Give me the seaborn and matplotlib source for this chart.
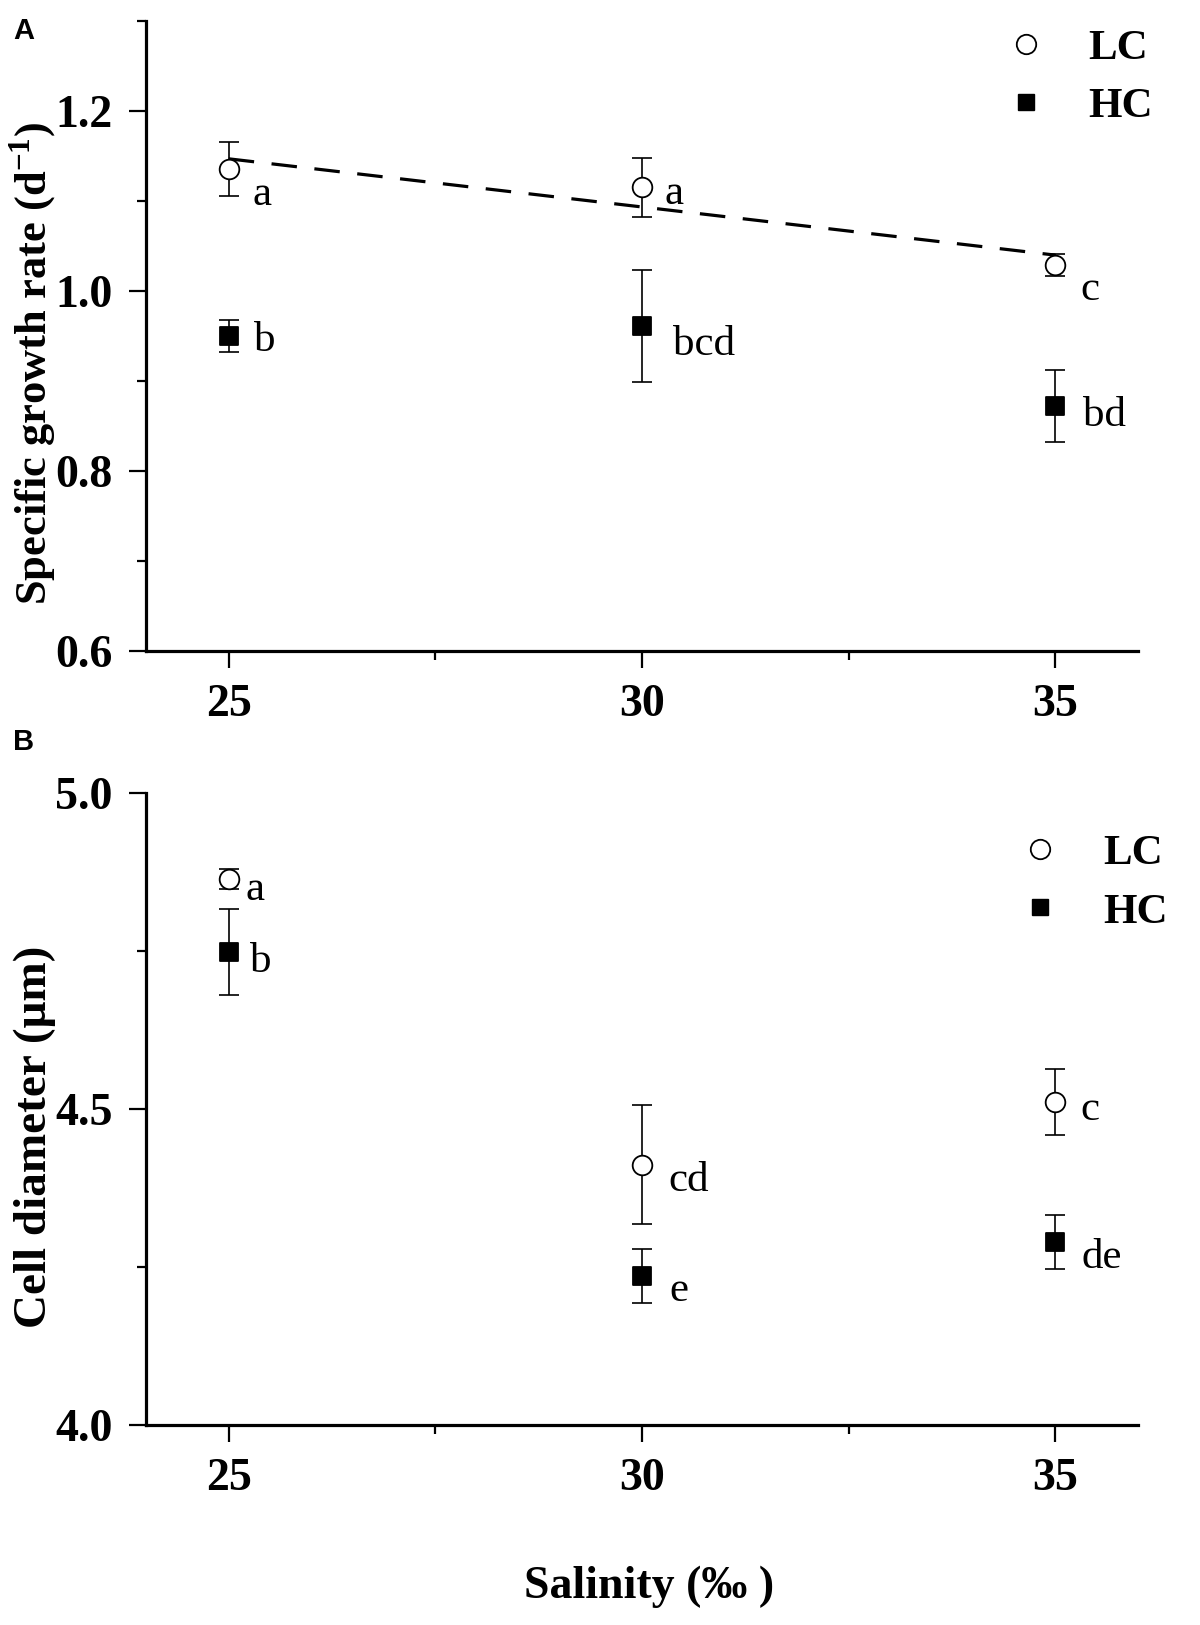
import matplotlib
matplotlib.use("Agg")
import matplotlib.pyplot as plt
from matplotlib.lines import Line2D
from matplotlib.ticker import FixedLocator
import seaborn as sns
import pandas as pd

# data
salinity = [25, 30, 35]

lc_growth = [1.136, 1.115, 1.029]
lc_growth_err = [0.030, 0.033, 0.012]
hc_growth = [0.950, 0.961, 0.872]
hc_growth_err = [0.018, 0.062, 0.040]
lc_growth_letters = ["a", "a", "c"]
hc_growth_letters = ["b", "bcd", "bd"]

lc_diam = [4.864, 4.412, 4.511]
lc_diam_err = [0.016, 0.094, 0.052]
hc_diam = [4.748, 4.236, 4.290]
hc_diam_err = [0.068, 0.043, 0.043]
lc_diam_letters = ["a", "cd", "c"]
hc_diam_letters = ["b", "e", "de"]

groups = ["LC", "HC"]

df_growth = pd.DataFrame({
    "Salinity": salinity * 2,
    "Value": lc_growth + hc_growth,
    "Err": lc_growth_err + hc_growth_err,
    "Group": ["LC"] * 3 + ["HC"] * 3,
})
df_diam = pd.DataFrame({
    "Salinity": salinity * 2,
    "Value": lc_diam + hc_diam,
    "Err": lc_diam_err + hc_diam_err,
    "Group": ["LC"] * 3 + ["HC"] * 3,
})

sns.set_style("ticks")
plt.rcParams["font.family"] = ["Liberation Serif", "DejaVu Serif"]
plt.rcParams["mathtext.fontset"] = "custom"
plt.rcParams["mathtext.rm"] = "Liberation Serif"
plt.rcParams["mathtext.bf"] = "Liberation Serif:bold"
for k in ["text.color", "axes.labelcolor", "xtick.color", "ytick.color", "axes.edgecolor"]:
    plt.rcParams[k] = "black"

fig = plt.figure(figsize=(12, 16.25), dpi=100)
axA = fig.add_axes([0.1217, 0.5994, 0.8266, 0.3877])
axB = fig.add_axes([0.1217, 0.1231, 0.8266, 0.3889])

markers = {"LC": "o", "HC": "s"}
sizes = {"LC": 200, "HC": 150}
faces = {"LC": "white", "HC": "black"}

# letter offsets in points (dx, dy) from each point
off_A = {"LC": [(17, -26), (16, -12), (18, -25)], "HC": [(18, -11), (22, -21), (20, -14)]}
off_B = {"LC": [(12, -15), (19, -19), (18, -13)], "HC": [(15, -14), (20, -18), (19, -19)]}


def draw_panel(ax, df, letters, offsets):
    for g in groups:
        d = df[df.Group == g]
        ax.errorbar(d.Salinity, d.Value, yerr=d.Err, fmt="none", ecolor="black",
                    elinewidth=1.2, capsize=7, capthick=1.2, zorder=2)
        sns.scatterplot(x="Salinity", y="Value", data=d, marker=markers[g],
                        s=sizes[g], color=faces[g], edgecolor="black",
                        linewidth=1.3, ax=ax, zorder=4, legend=False)
        for (x, y, t, o) in zip(d.Salinity, d.Value, letters[g], offsets[g]):
            ax.annotate(t, (x, y), xytext=o, textcoords="offset points",
                        ha="left", va="baseline", fontsize=31)
    ax.set_xlim(24, 36)
    ax.xaxis.set_major_locator(FixedLocator([25, 30, 35]))
    ax.xaxis.set_minor_locator(FixedLocator([27.5, 32.5]))
    for s in ["left", "bottom"]:
        ax.spines[s].set_linewidth(2.3)
    sns.despine(ax=ax)
    ax.tick_params(which="major", length=12, width=1.6, pad=12, labelsize=33)
    ax.tick_params(which="minor", length=6.5, width=1.6)
    ax.set_xlabel("")


draw_panel(axA, df_growth, {"LC": lc_growth_letters, "HC": hc_growth_letters}, off_A)
draw_panel(axB, df_diam, {"LC": lc_diam_letters, "HC": hc_diam_letters}, off_B)

# linear fit for LC growth
sns.regplot(x="Salinity", y="Value", data=df_growth[df_growth.Group == "LC"],
            scatter=False, ci=None, truncate=True, ax=axA,
            line_kws=dict(color="black", lw=2.3, dashes=(8, 5.5), zorder=3))

axA.set_ylim(0.6, 1.3)
axA.yaxis.set_major_locator(FixedLocator([0.6, 0.8, 1.0, 1.2]))
axA.yaxis.set_minor_locator(FixedLocator([0.7, 0.9, 1.1, 1.3]))
axA.set_yticklabels(["0.6", "0.8", "1.0", "1.2"], fontweight="bold")
axA.set_xticklabels(["25", "30", "35"], fontweight="bold")
axA.set_xlabel("")
axA.set_ylabel(r"Specific growth rate (d$^{\mathbf{-1}}$)", fontsize=32, fontweight="bold")
axA.yaxis.set_label_coords(-0.088, 0.456)

axB.set_ylim(4.0, 5.0)
axB.yaxis.set_major_locator(FixedLocator([4.0, 4.5, 5.0]))
axB.yaxis.set_minor_locator(FixedLocator([4.25, 4.75]))
axB.set_yticklabels(["4.0", "4.5", "5.0"], fontweight="bold")
axB.set_xticklabels(["25", "30", "35"], fontweight="bold")
axB.set_xlabel("")
axB.set_ylabel("Cell diameter (\u03bcm)", fontsize=34, fontweight="bold")
axB.yaxis.set_label_coords(-0.091, 0.456)

fig.text(649 / 1200, 1 - 1587 / 1625, "Salinity (\u2030 )", fontsize=33,
         fontweight="bold", ha="center", va="center")

# legends
handles = [Line2D([], [], ls="none", marker="o", ms=14, mfc="white", mec="black", mew=1.3),
           Line2D([], [], ls="none", marker="s", ms=12, mfc="black", mec="black")]
for ax, anchor in [(axA, (0.865, 0.910)), (axB, (0.880, 0.858))]:
    leg = ax.legend(handles, groups, loc="center left", bbox_to_anchor=anchor,
                    frameon=False, handlelength=1.0, handletextpad=0.96,
                    borderpad=0, borderaxespad=0, labelspacing=0.45,
                    prop=dict(family="Liberation Serif", weight="bold", size=31))

fig.text(13 / 1200, 1 - 31 / 1625, "A", family="Liberation Sans", fontweight="bold",
         fontsize=21, ha="left", va="center")
fig.text(13 / 1200, 1 - 742 / 1625, "B", family="Liberation Sans", fontweight="bold",
         fontsize=21, ha="left", va="center")

fig.savefig("out.png", dpi=100)
